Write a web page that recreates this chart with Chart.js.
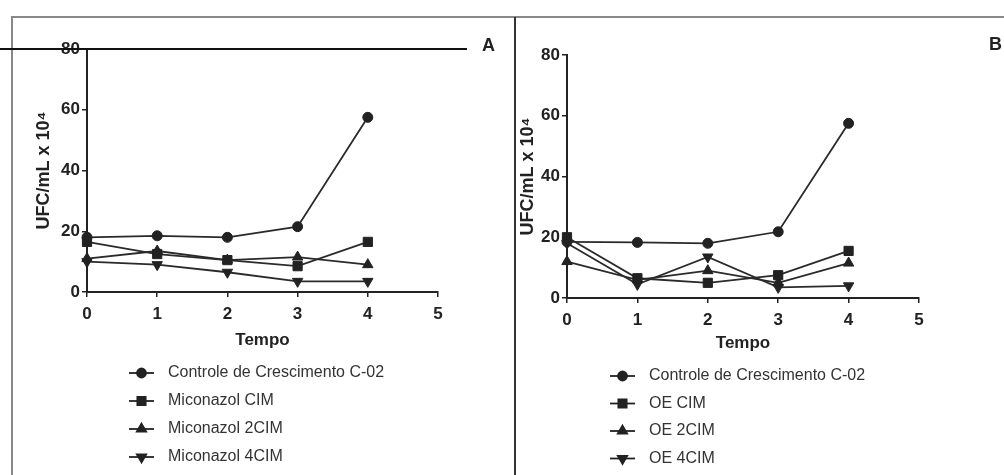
<!DOCTYPE html>
<html>
<head>
<meta charset="utf-8">
<script src="https://cdn.jsdelivr.net/npm/chart.js"></script>
<style>
  html, body { margin: 0; padding: 0; background: #fff; }
  #wrap { position: relative; width: 1004px; height: 475px; overflow: hidden; background: #fff; }
  canvas { position: absolute; top: 0; }
  .rule { position: absolute; }
  .tag { position: absolute; font: bold 18px "Liberation Sans", Arial, sans-serif; color: #222; }
</style>
</head>
<body>
<div id="wrap">
  <canvas id="chartA" width="515" height="475" style="left:0"></canvas>
  <canvas id="chartB" width="489" height="475" style="left:515px"></canvas>
  <div class="rule" style="left:11px;top:16px;width:993px;height:2px;background:#888"></div>
  <div class="rule" style="left:11px;top:16px;width:2px;height:459px;background:#888"></div>
  <div class="rule" style="left:514px;top:17px;width:2px;height:458px;background:#333"></div>
  <div class="rule" style="left:0;top:48px;width:467px;height:2px;background:#111"></div>
  <div class="tag" style="left:482px;top:35px">A</div>
  <div class="tag" style="left:989px;top:34px">B</div>
</div>
<script>
// tempo (x) and UFC/mL x 10^4 (y)
const tempo = [0, 1, 2, 3, 4];

const labelsA = ['Controle de Crescimento C-02', 'Miconazol CIM', 'Miconazol 2CIM', 'Miconazol 4CIM'];
const controleA = [18, 18.5, 18, 21.5, 57.5];
const micCIM = [16.5, 12.5, 10.5, 8.5, 16.5];
const mic2CIM = [11, 13.5, 10.5, 11.5, 9];
const mic4CIM = [10, 9, 6.5, 3.5, 3.5];

const labelsB = ['Controle de Crescimento C-02', 'OE CIM', 'OE 2CIM', 'OE 4CIM'];
const controleB = [18.5, 18.3, 18, 21.8, 57.5];
const oeCIM = [20, 6.5, 5, 7.5, 15.5];
const oe2CIM = [12, 6, 9, 5, 11.5];
const oe4CIM = [18, 4.5, 13.5, 3.5, 4];

const yTicks = [0, 20, 40, 60, 80];
const xTicks = [0, 1, 2, 3, 4, 5];

const FONT = '"Liberation Sans", Arial, sans-serif';
const INK = '#222';
const markers = [
  { style: 'circle', rot: 0, r: 5 },
  { style: 'rect', rot: 0, r: 6.5 },
  { style: 'triangle', rot: 0, r: 6 },
  { style: 'triangle', rot: 180, r: 6 }
];

// legend under the plot: short line with the marker, then the label
const stackLegend = {
  id: 'stackLegend',
  afterDraw(chart, args, opts) {
    const ctx = chart.ctx;
    ctx.save();
    chart.data.datasets.forEach((ds, i) => {
      const y = opts.y + i * opts.step;
      ctx.strokeStyle = INK;
      ctx.fillStyle = INK;
      ctx.lineWidth = 1.8;
      ctx.beginPath();
      ctx.moveTo(opts.x, y);
      ctx.lineTo(opts.x + 25, y);
      ctx.stroke();
      Chart.helpers.drawPoint(ctx, { pointStyle: ds.pointStyle, rotation: ds.pointRotation, radius: ds.pointRadius * 0.9, borderWidth: 1 }, opts.x + 12.5, y);
      ctx.fillStyle = '#333';
      ctx.font = '16px ' + FONT;
      ctx.textBaseline = 'middle';
      ctx.textAlign = 'left';
      ctx.fillText(ds.label, opts.x + 39, y);
    });
    ctx.restore();
  }
};

function makeChart(id, labels, series, box, legend) {
  const datasets = series.map((vals, i) => ({
    label: labels[i],
    data: tempo.map((t, k) => ({ x: t, y: vals[k] })),
    borderColor: '#2a2a2a',
    borderWidth: 1.8,
    backgroundColor: INK,
    pointStyle: markers[i].style,
    pointRotation: markers[i].rot,
    pointRadius: markers[i].r,
    pointBackgroundColor: INK,
    pointBorderColor: INK,
    pointBorderWidth: 1,
    tension: 0,
    clip: false
  }));

  return new Chart(document.getElementById(id), {
    type: 'line',
    data: { datasets: datasets },
    plugins: [stackLegend],
    options: {
      responsive: false,
      animation: false,
      events: [],
      layout: { padding: box.padding },
      plugins: {
        legend: { display: false },
        tooltip: { enabled: false },
        stackLegend: legend
      },
      scales: {
        x: {
          type: 'linear',
          min: 0,
          max: 5,
          afterBuildTicks: s => { s.ticks = xTicks.map(v => ({ value: v })); },
          afterFit: s => { s.height = 60; },
          ticks: { color: INK, padding: 7, font: { family: FONT, size: 17, weight: 'bold' } },
          grid: { drawOnChartArea: false, tickLength: 5, color: INK, lineWidth: 1.5 },
          border: { color: INK, width: 2 },
          title: {
            display: true, text: 'Tempo', color: INK,
            font: { family: FONT, size: 17, weight: 'bold' },
            padding: { top: 0, bottom: box.xTitlePad }
          }
        },
        y: {
          min: 0,
          max: 80,
          afterBuildTicks: s => { s.ticks = yTicks.map(v => ({ value: v })); },
          afterFit: s => { s.width = box.yWidth; },
          ticks: { color: INK, padding: 2, font: { family: FONT, size: 17, weight: 'bold' } },
          grid: { drawOnChartArea: false, tickLength: 5, color: INK, lineWidth: 1.5 },
          border: { color: INK, width: 2 },
          title: {
            display: true, text: 'UFC/mL x 10⁴', color: INK,
            font: { family: FONT, size: 18, weight: 'bold' },
            padding: { top: box.yTitlePad, bottom: 0 }
          }
        }
      }
    }
  });
}

makeChart('chartA', labelsA, [controleA, micCIM, mic2CIM, mic4CIM],
  { padding: { left: 0, top: 49, right: 77, bottom: 123 }, yWidth: 87, yTitlePad: 33, xTitlePad: 1 },
  { x: 129, y: 373, step: 28 });

makeChart('chartB', labelsB, [controleB, oeCIM, oe2CIM, oe4CIM],
  { padding: { left: 0, top: 55, right: 85, bottom: 117 }, yWidth: 52, yTitlePad: 2, xTitlePad: 4 },
  { x: 95, y: 376, step: 27.5 });
</script>
</body>
</html>
